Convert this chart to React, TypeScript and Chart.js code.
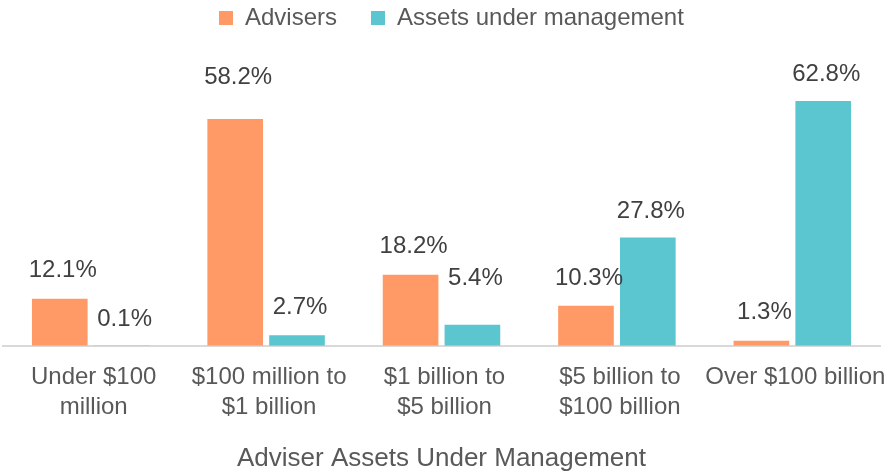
import React, { useEffect, useRef } from "react";
import { Chart, registerables } from "chart.js";

Chart.register(...registerables);

const categories: string[][] = [
  ["Under $100", "million"],
  ["$100 million to", "$1 billion"],
  ["$1 billion to", "$5 billion"],
  ["$5 billion to", "$100 billion"],
  ["Over $100 billion"],
];
const advisers = [12.1, 58.2, 18.2, 10.3, 1.3];
const aum = [0.1, 2.7, 5.4, 27.8, 62.8];

const FONT = "'Liberation Sans', Arial, sans-serif";
const TEXT = "#595959";
const LABEL = "#404040";

// style: distance (px) from bar top to the centre of each value label
const labelLift = [
  [28, 42, 28, 27.5, 28],
  [26, 28, 46, 26, 27],
];

const valueLabels = {
  id: "valueLabels",
  afterDatasetsDraw(chart: any) {
    const ctx = chart.ctx;
    ctx.save();
    ctx.font = `24px ${FONT}`;
    ctx.fillStyle = LABEL;
    ctx.textAlign = "center";
    ctx.textBaseline = "middle";
    chart.data.datasets.forEach((ds: any, i: number) => {
      const meta = chart.getDatasetMeta(i);
      meta.data.forEach((el: any, j: number) => {
        ctx.fillText(ds.data[j].toFixed(1) + "%", el.x + 3, el.y - labelLift[i][j]);
      });
    });
    ctx.restore();
  },
};

const legendPlacer = {
  id: "legendPlacer",
  afterLayout(chart: any) {
    const lg = chart.legend;
    if (!lg) return;
    const w = lg.right - lg.left;
    const h = lg.bottom - lg.top;
    lg.left = 185;
    lg.right = 185 + w;
    lg.top = -28;
    lg.bottom = -28 + h;
  },
};

export default function App() {
  const ref = useRef<HTMLCanvasElement>(null);
  useEffect(() => {
    const chart = new Chart(ref.current!, {
      type: "bar",
      data: {
        labels: categories,
        datasets: [
          { label: "Advisers", data: advisers, backgroundColor: "#FF9A66", categoryPercentage: 0.705, barPercentage: 0.9 },
          { label: "Assets under management", data: aum, backgroundColor: "#5BC5D0", categoryPercentage: 0.705, barPercentage: 0.9 },
        ],
      },
      options: {
        animation: false,
        responsive: false,
        maintainAspectRatio: false,
        layout: { padding: { left: 3, right: 9, top: 5, bottom: 0 } },
        plugins: {
          tooltip: { enabled: false },
          legend: {
            position: "top",
            align: "start",
            labels: {
              boxWidth: 14,
              boxHeight: 14,
              padding: 34,
              color: TEXT,
              font: { family: FONT, size: 24 },
            },
          },
        },
        scales: {
          y: { display: false, min: 0, max: 70 },
          x: {
            afterFit: (scale: any) => {
              scale.paddingLeft = 0;
              scale.paddingRight = 0;
            },
            grid: { display: false, drawTicks: false },
            border: { display: true, color: "#D9D9D9", width: 2 },
            ticks: { color: TEXT, font: { family: FONT, size: 24, lineHeight: 1.25 }, padding: 17, labelOffset: 3, maxRotation: 0, autoSkip: false },
            title: { display: true, text: "Adviser Assets Under Management", color: TEXT, font: { family: FONT, size: 26 }, padding: { top: 3, bottom: 0 } },
          },
        },
      },
      plugins: [valueLabels, legendPlacer],
    });
    return () => chart.destroy();
  }, []);
  return (
    <div style={{ position: "fixed", left: 0, top: 0, width: 889, height: 474, background: "#fff" }}>
      <canvas ref={ref} width={889} height={474} style={{ display: "block" }} />
    </div>
  );
}
